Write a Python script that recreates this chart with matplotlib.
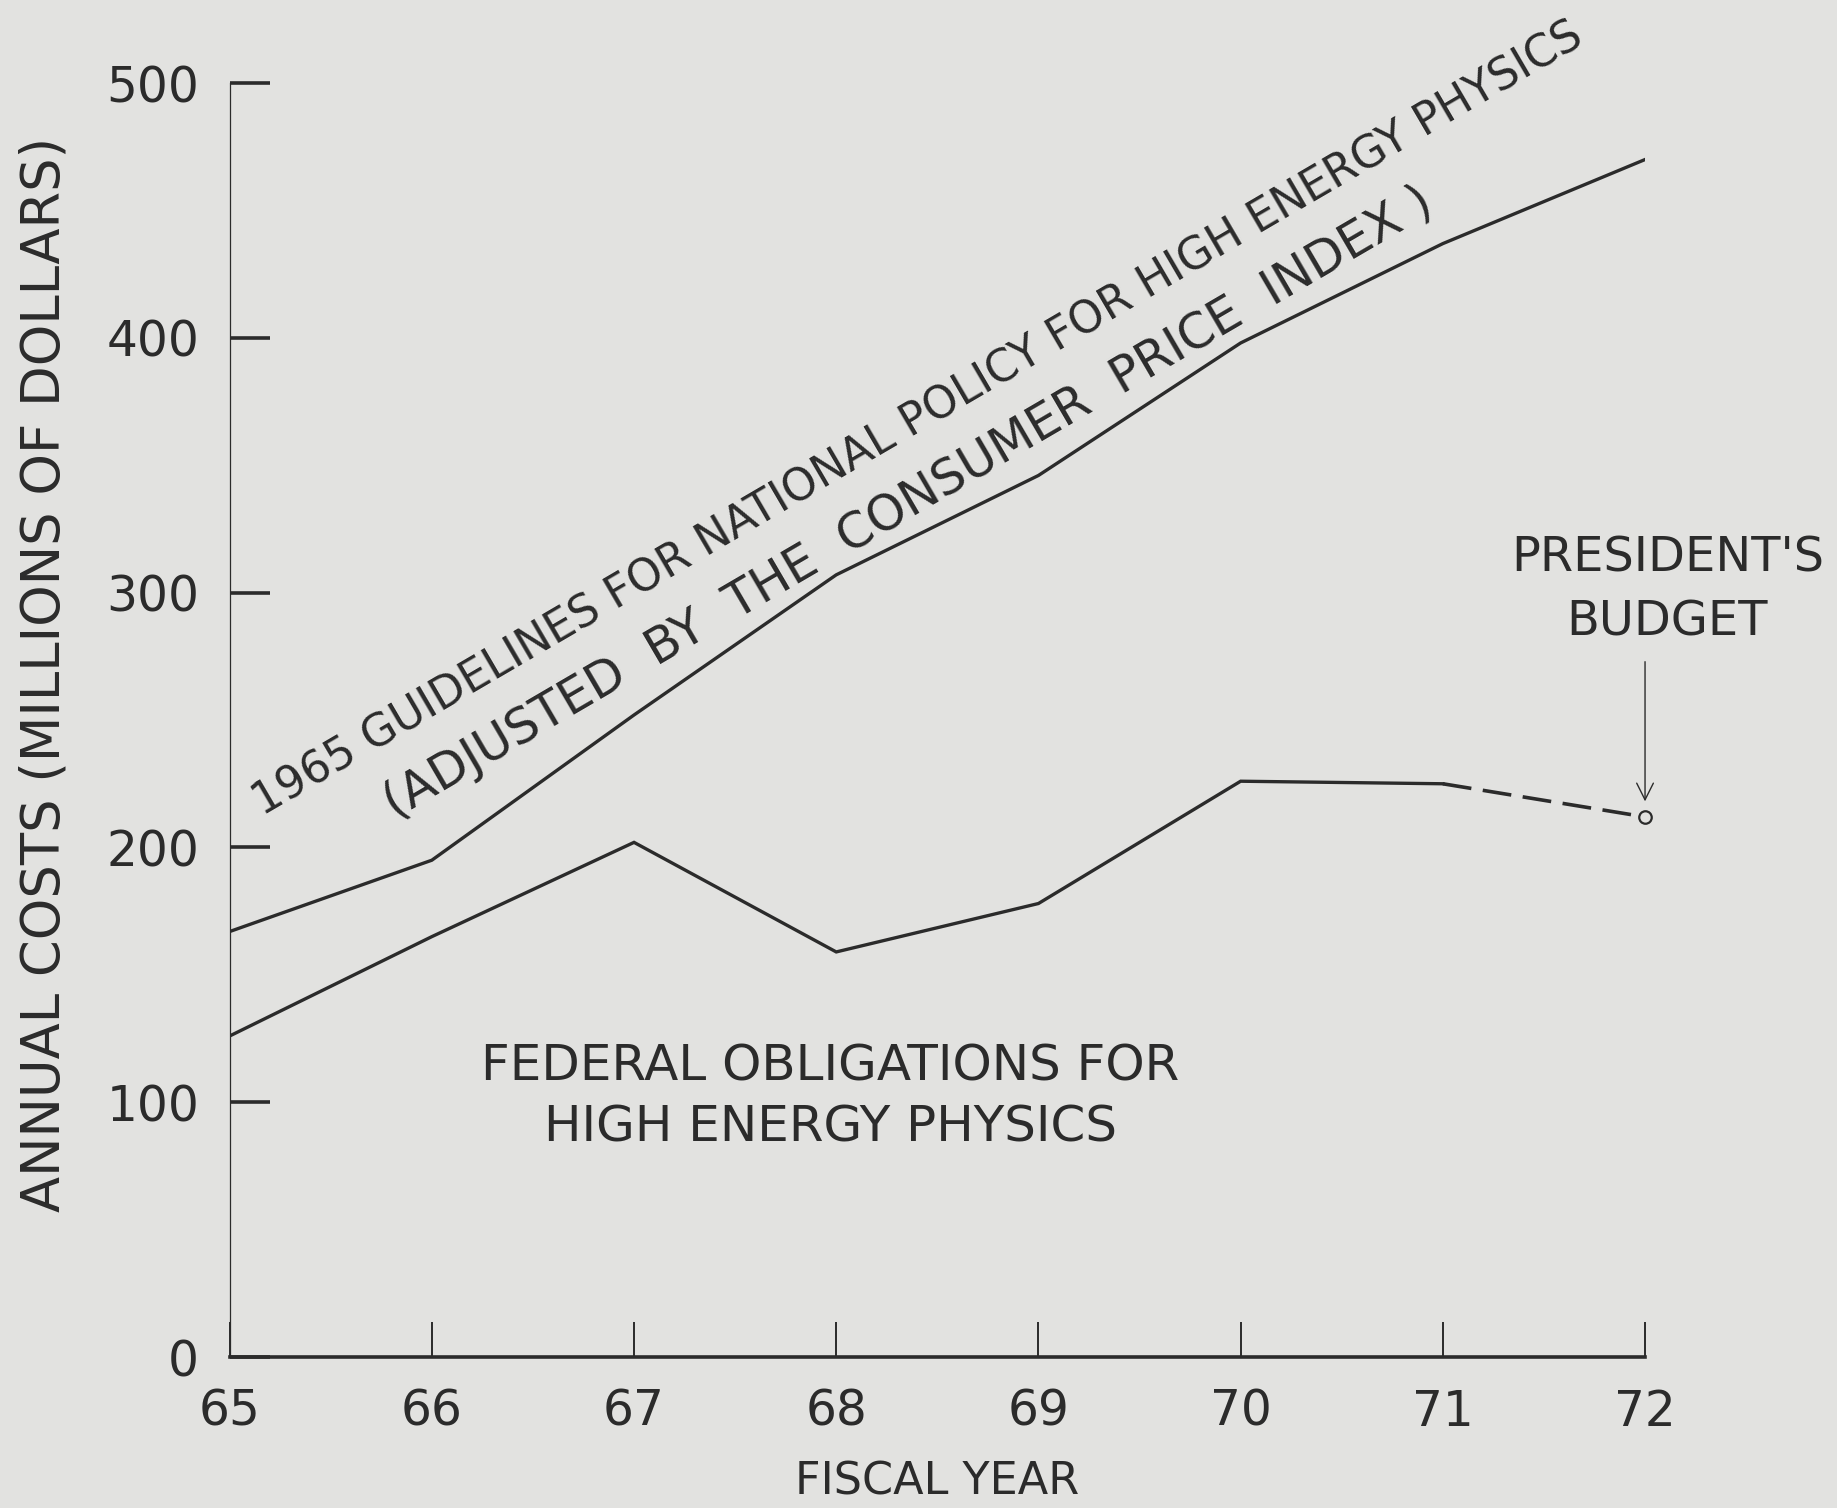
# 高能物理经费折线图
import numpy as np
import matplotlib.pyplot as plt

plt.rcParams['font.family'] = ['DejaVu Sans']

years = [65, 66, 67, 68, 69, 70, 71, 72]
guidelines = [167, 195, 252, 307, 346, 398, 437, 470]
# 实际联邦拨款，72年为总统预算（虚线）
obligations = [126, 165, 202, 159, 178, 226, 225]
budget_years = [71, 72]
budget = [225, 212]

yticks = [0, 100, 200, 300, 400, 500]

bg = '#e2e2e0'
ink = '#2b2b2b'

fig = plt.figure(figsize=(18.37, 15.08), dpi=100, facecolor=bg)
ax = fig.add_axes([0.125, 0.1001, 0.7705, 0.8448])
ax.set_facecolor(bg)

ax.plot(years, guidelines, color=ink, lw=2.4, solid_joinstyle='miter')
ax.plot(years[:len(obligations)], obligations, color=ink, lw=2.4, solid_joinstyle='miter')
ax.plot(budget_years, budget, color=ink, lw=2.6, dashes=(8, 3.2), clip_on=False)
ax.plot(budget_years[-1], budget[-1], 'o', ms=9, mfc=bg, mec=ink, mew=1.6, clip_on=False)

ax.set_xlim(65, 72)
ax.set_ylim(0, 500)
ax.set_xticks(years)
ax.set_yticks(yticks)
ax.set_xticklabels([str(y) for y in years])
ax.set_yticklabels([str(v) for v in yticks])

for s in ['top', 'right']:
    ax.spines[s].set_visible(False)
ax.spines['left'].set_linewidth(0.9)
ax.spines['bottom'].set_linewidth(2.6)
ax.spines['left'].set_color(ink)
ax.spines['bottom'].set_color(ink)

ax.tick_params(axis='y', direction='in', length=29, width=2.6, pad=22,
               labelsize=35, colors=ink)
ax.tick_params(axis='x', direction='in', length=25, width=1.4, pad=22,
               labelsize=35, colors=ink)

ax.set_ylabel('ANNUAL COSTS (MILLIONS OF DOLLARS)', fontsize=38, color=ink, va='center')
ax.yaxis.set_label_coords(-0.131, 0.536)
ax.set_xlabel('FISCAL YEAR', fontsize=32, color=ink, labelpad=18)

# 斜向标注
ax.text(65.165, 212, '1965 GUIDELINES FOR NATIONAL POLICY FOR HIGH ENERGY PHYSICS',
        rotation=30.3, rotation_mode='anchor', ha='left', va='baseline',
        fontsize=31.8, color=ink)
ax.text(65.82, 211, '(ADJUSTED  BY  THE  CONSUMER  PRICE  INDEX )',
        rotation=30.3, rotation_mode='anchor', ha='left', va='baseline',
        fontsize=35.5, color=ink)

ax.text(67.97, 102, 'FEDERAL OBLIGATIONS FOR\nHIGH ENERGY PHYSICS',
        ha='center', va='center', fontsize=36, color=ink, linespacing=1.35)

ax.text(72.11, 301, "PRESIDENT'S\nBUDGET", ha='center', va='center',
        fontsize=34.5, color=ink, linespacing=1.45, clip_on=False)
ax.annotate('', xy=(72, 217), xytext=(72, 274),
            arrowprops=dict(arrowstyle='->', color=ink, lw=1.0,
                            mutation_scale=30), annotation_clip=False)

fig.savefig('out.png', dpi=100, facecolor=bg)
